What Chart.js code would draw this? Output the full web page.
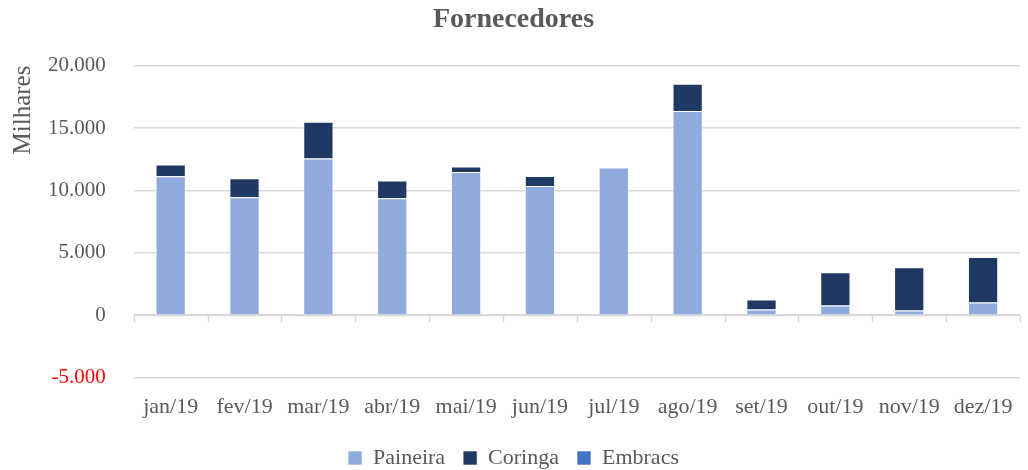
<!DOCTYPE html>
<html>
<head>
<meta charset="utf-8">
<script src="https://cdn.jsdelivr.net/npm/chart.js"></script>
<style>
  html, body { margin: 0; padding: 0; background: #fff; }
  #wrap { width: 1028px; height: 470px; }
</style>
</head>
<body>
<div id="wrap"><canvas id="chart"></canvas></div>
<script>
// dados (milhares)
const meses = ['jan/19', 'fev/19', 'mar/19', 'abr/19', 'mai/19', 'jun/19', 'jul/19', 'ago/19', 'set/19', 'out/19', 'nov/19', 'dez/19'];
const paineira = [11130, 9460, 12560, 9380, 11480, 10350, 11830, 16370, 460, 780, 380, 1020];
const coringa = [940, 1510, 2950, 1420, 430, 800, 0, 2180, 800, 2660, 3470, 3650];
const embracs = [0, 0, 0, 0, 0, 0, 0, 0, 0, 0, 0, 0];

const FONT = "'Liberation Serif', 'Times New Roman', serif";
const GRAY = '#595959';

// formato 20.000
const fmt = v => {
  const s = Math.abs(v).toString().replace(/\B(?=(\d{3})+(?!\d))/g, '.');
  return (v < 0 ? '-' : '') + s;
};

// linha do zero com marcas entre categorias (eixo do Excel cruza no 0)
const zeroAxis = {
  id: 'zeroAxis',
  afterDatasetsDraw(chart) {
    const { ctx, scales: { x, y }, chartArea } = chart;
    const y0 = Math.round(y.getPixelForValue(0)) + 0.5;
    const step = (chartArea.right - chartArea.left) / meses.length;
    ctx.save();
    ctx.strokeStyle = '#d9d9d9';
    ctx.lineWidth = 1.5;
    ctx.beginPath();
    ctx.moveTo(chartArea.left, y0);
    ctx.lineTo(chartArea.right, y0);
    for (let i = 0; i <= meses.length; i++) {
      const px = Math.round(x.getPixelForValue(i) - step / 2) + 0.5;
      ctx.moveTo(px, y0);
      ctx.lineTo(px, y0 + 7);
    }
    ctx.stroke();
    ctx.restore();
  }
};

const ds = (label, data, color) => ({
  label, data,
  backgroundColor: color,
  borderColor: 'rgba(255,255,255,0.6)',
  borderWidth: 1,
  categoryPercentage: 1,
  barPercentage: 0.41
});

new Chart(document.getElementById('chart'), {
  type: 'bar',
  data: {
    labels: meses,
    datasets: [
      ds('Paineira', paineira, '#8faadc'),
      ds('Coringa', coringa, '#203864'),
      ds('Embracs', embracs, '#4472c4')
    ]
  },
  options: {
    responsive: true,
    maintainAspectRatio: false,
    animation: false,
    layout: { padding: { left: 7, right: 8, top: 2, bottom: -9 } },
    plugins: {
      title: {
        display: true,
        text: 'Fornecedores',
        color: GRAY,
        font: { family: FONT, size: 28, weight: 'bold' },
        padding: { top: 1, bottom: 29 }
      },
      legend: {
        position: 'bottom',
        labels: {
          color: GRAY,
          font: { family: FONT, size: 22 },
          boxWidth: 14,
          boxHeight: 14,
          padding: 18
        }
      },
      tooltip: { enabled: false }
    },
    scales: {
      x: {
        stacked: true,
        grid: { display: false },
        border: { display: false },
        ticks: { color: GRAY, font: { family: FONT, size: 22 }, padding: 8, maxRotation: 0, autoSkip: false },
        afterFit: s => { s.height += 1; }
      },
      y: {
        stacked: true,
        min: -5000,
        max: 20000,
        border: { display: false },
        grid: { color: '#d9d9d9', lineWidth: 1.5, drawTicks: false },
        ticks: {
          stepSize: 5000,
          padding: 28,
          font: { family: FONT, size: 21 },
          color: c => c.tick && c.tick.value < 0 ? '#ff0000' : GRAY,
          callback: v => fmt(v)
        },
        title: {
          display: true,
          text: 'Milhares',
          align: 'end',
          color: GRAY,
          font: { family: FONT, size: 25, lineHeight: 1 },
          padding: { top: 4, bottom: 0 }
        },
        afterFit: s => { s.width -= 16; }
      }
    }
  },
  plugins: [zeroAxis]
});
</script>
</body>
</html>
